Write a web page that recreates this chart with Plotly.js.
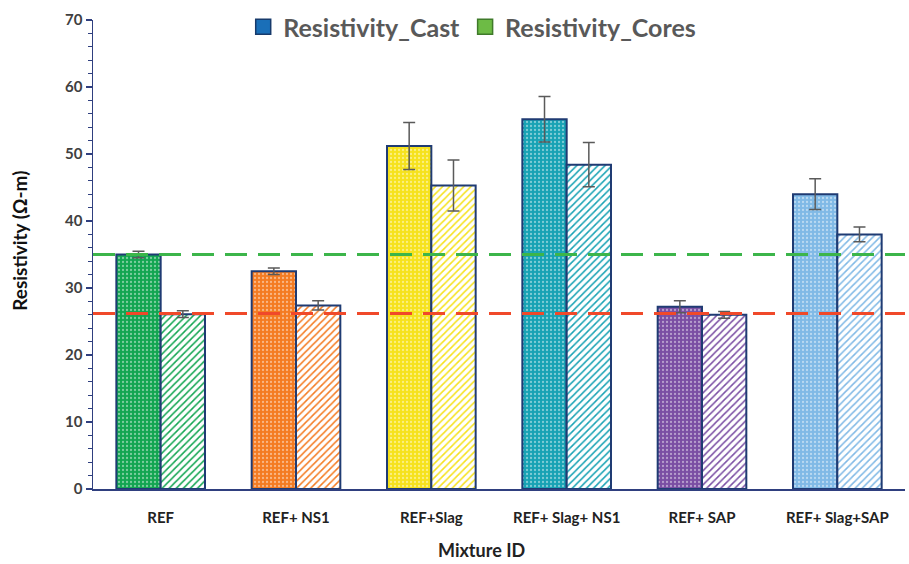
<!DOCTYPE html>
<html>
<head>
<meta charset="utf-8">
<script src="https://cdn.plot.ly/plotly-3.0.1.min.js"></script>
<style>
  html, body { margin: 0; padding: 0; background: #ffffff; }
  #chart { width: 909px; height: 564px; }
</style>
</head>
<body>
<div id="chart"></div>
<script>
// Mixture IDs along the x axis
const mixtures = ["REF", "REF+ NS1", "REF+Slag", "REF+ Slag+ NS1", "REF+ SAP", "REF+ Slag+SAP"];

// Resistivity (Ω-m) of cast specimens and of cores, with their error margins
const castValues  = [35.0, 32.5, 51.2, 55.2, 27.2, 44.0];
const castErrors  = [0.5, 0.5, 3.5, 3.4, 0.9, 2.3];
const coreValues  = [26.1, 27.4, 45.3, 48.4, 26.0, 38.0];
const coreErrors  = [0.5, 0.7, 3.8, 3.3, 0.5, 1.1];

// Reference levels drawn as dashed lines
const refLevels = [35.0, 26.2];
const refColors = ["#3cb54a", "#f0492a"];

// One colour per mixture
const mixColors = ["#12a551", "#f47b22", "#f6e21c", "#17a2b4", "#7a4ea3", "#80b9e6"];

const outline = { color: "#1f3b73", width: 2 };
const errStyle = { type: "data", visible: true, color: "#5a5a5a", thickness: 1.5, width: 6 };

// Cast bars: one trace per mixture so each gets its own solid colour
// with a light dotted texture on top
const castTraces = mixtures.map((mix, i) => ({
  type: "bar",
  name: "Resistivity_Cast",
  offsetgroup: "cast",
  x: [mix],
  y: [castValues[i]],
  error_y: Object.assign({ array: [castErrors[i]] }, errStyle),
  showlegend: false,
  marker: {
    color: mixColors[i],
    line: outline,
    pattern: {
      shape: ".",
      fillmode: "replace",
      bgcolor: mixColors[i],
      fgcolor: "#ffffff",
      fgopacity: 0.45,
      size: 4,
      solidity: 0.25
    }
  }
}));

// Core bars: coloured diagonal hatching on white
const coreTrace = {
  type: "bar",
  name: "Resistivity_Cores",
  offsetgroup: "cores",
  x: mixtures,
  y: coreValues,
  error_y: Object.assign({ array: coreErrors }, errStyle),
  showlegend: false,
  marker: {
    color: "#ffffff",
    line: outline,
    pattern: {
      shape: "/",
      bgcolor: "#ffffff",
      fgcolor: mixColors,
      size: 5,
      solidity: 0.3
    }
  }
};

// Legend keys
const legendCast = {
  type: "scatter", mode: "markers", name: "Resistivity_Cast",
  x: [null], y: [null],
  marker: { symbol: "square", size: 15, color: "#1a6fb8", line: { color: "#173a6b", width: 1.5 } }
};
const legendCores = {
  type: "scatter", mode: "markers", name: "Resistivity_Cores",
  x: [null], y: [null],
  marker: { symbol: "square", size: 15, color: "#6dbb45", line: { color: "#3f7a2a", width: 1.5 } }
};

const shapes = refLevels.map((lvl, i) => ({
  type: "line", xref: "paper", yref: "y",
  x0: 0, x1: 1, y0: lvl, y1: lvl,
  layer: "above",
  line: { color: refColors[i], width: 3, dash: "22px,11px" }
}));

const annotations = [
  {
    text: "<b>Mixture ID</b>", xref: "paper", yref: "paper",
    x: 0.478, y: -0.13, xanchor: "center", yanchor: "middle", showarrow: false,
    font: { size: 18, color: "#222222" }
  },
  {
    text: "<b>Resistivity (Ω-m)</b>", xref: "paper", yref: "paper",
    x: -0.09, y: 0.529, xanchor: "center", yanchor: "middle", showarrow: false,
    textangle: -90,
    font: { size: 19, color: "#111111" }
  }
];

const layout = {
  width: 909,
  height: 564,
  margin: { l: 93, r: 4, t: 16, b: 75 },
  paper_bgcolor: "#ffffff",
  plot_bgcolor: "#ffffff",
  font: { family: "Lato, 'Open Sans', sans-serif", color: "#404040" },
  barmode: "group",
  bargap: 0.345,
  bargroupgap: 0,
  showlegend: true,
  legend: {
    orientation: "h",
    x: 0.467, xanchor: "center",
    y: 1.034, yanchor: "top",
    bgcolor: "rgba(0,0,0,0)",
    font: { size: 25, color: "#595959", family: "Lato, sans-serif", weight: "bold" },
    itemwidth: 30
  },
  xaxis: {
    type: "category",
    categoryorder: "array",
    categoryarray: mixtures,
    showline: true,
    linecolor: "#2f3f7f",
    linewidth: 1.5,
    ticks: "",
    showgrid: false,
    zeroline: false,
    ticklabelstandoff: 14,
    tickfont: { size: 15, color: "#222222", weight: "bold" }
  },
  yaxis: {
    range: [0, 70],
    dtick: 10,
    showline: true,
    linecolor: "#2f3f7f",
    linewidth: 1.5,
    ticks: "outside",
    ticklen: 6,
    tickwidth: 1.2,
    tickcolor: "#2f3f7f",
    minor: { dtick: 2, ticks: "outside", ticklen: 4, tickcolor: "#2f3f7f", tickwidth: 1 },
    showgrid: false,
    zeroline: false,
    tickfont: { size: 15, color: "#404040", weight: "bold" }
  },
  shapes: shapes,
  annotations: annotations
};

Plotly.newPlot("chart", castTraces.concat([coreTrace, legendCast, legendCores]), layout, { displayModeBar: false, staticPlot: true });
</script>
</body>
</html>
